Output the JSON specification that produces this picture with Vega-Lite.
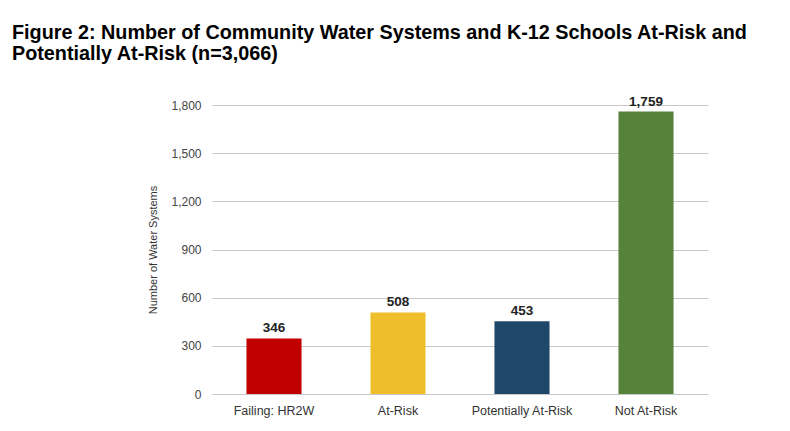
{
  "$schema": "https://vega.github.io/schema/vega-lite/v6.json",
  "autosize": {"type": "none"},
  "padding": {"left": 212, "top": 105, "right": 82, "bottom": 37},
  "width": 496,
  "height": 289,
  "background": "white",
  "title": {
    "text": ["Figure 2: Number of Community Water Systems and K-12 Schools At-Risk and", "Potentially At-Risk (n=3,066)"],
    "anchor": "start",
    "frame": "group",
    "dx": -200,
    "offset": 31,
    "font": "Liberation Sans",
    "fontSize": 19.8,
    "fontWeight": "bold",
    "color": "#000000",
    "lineHeight": 21
  },
  "data": {
    "values": [
      {"category": "Failing: HR2W", "count": 346},
      {"category": "At-Risk", "count": 508},
      {"category": "Potentially At-Risk", "count": 453},
      {"category": "Not At-Risk", "count": 1759}
    ]
  },
  "encoding": {
    "x": {
      "field": "category",
      "type": "nominal",
      "sort": null,
      "scale": {"paddingInner": 0.556, "paddingOuter": 0.278},
      "axis": {
        "title": null,
        "labelAngle": 0,
        "ticks": false,
        "domain": false,
        "labelPadding": 10,
        "labelFont": "Liberation Sans",
        "labelFontSize": 12.5,
        "labelColor": "#333333"
      }
    },
    "y": {
      "field": "count",
      "type": "quantitative",
      "scale": {"domain": [0, 1800], "nice": false},
      "axis": {
        "title": "Number of Water Systems",
        "titleFont": "Liberation Sans",
        "titleFontSize": 11,
        "titleFontWeight": "normal",
        "titleColor": "#333333",
        "titlePadding": 12,
        "values": [0, 300, 600, 900, 1200, 1500, 1800],
        "format": ",d",
        "ticks": false,
        "domain": false,
        "labelPadding": 11,
        "labelFont": "Liberation Sans",
        "labelFontSize": 12,
        "labelColor": "#444444",
        "gridColor": "#c8c8c8",
        "gridWidth": 1.2
      }
    }
  },
  "layer": [
    {
      "mark": {"type": "bar"},
      "encoding": {
        "color": {
          "field": "category",
          "type": "nominal",
          "legend": null,
          "scale": {
            "domain": ["Failing: HR2W", "At-Risk", "Potentially At-Risk", "Not At-Risk"],
            "range": ["#c00000", "#efbe2b", "#1e4769", "#56833a"]
          }
        }
      }
    },
    {
      "mark": {
        "type": "text",
        "baseline": "bottom",
        "dy": -3,
        "font": "Liberation Sans",
        "fontSize": 13.5,
        "fontWeight": "bold",
        "color": "#222222"
      },
      "encoding": {
        "text": {"field": "count", "type": "quantitative", "format": ",d"}
      }
    }
  ],
  "config": {
    "view": {"stroke": null}
  }
}
